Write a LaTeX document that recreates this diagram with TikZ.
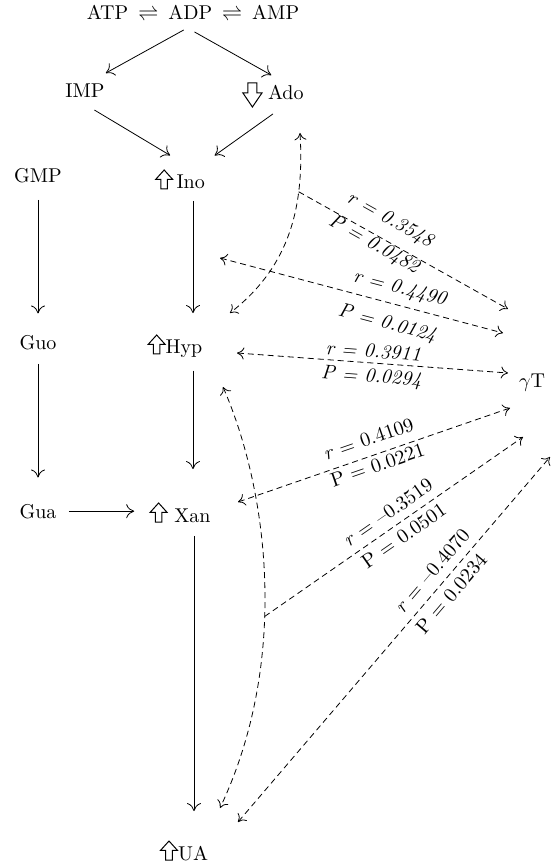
\documentclass[tikz,border=0pt]{standalone}
\usepackage{fontspec}
\usetikzlibrary{arrows.meta}

% hule piler foran navnene
\newcommand{\uparr}{\tikz[baseline=0pt, x=1pt, y=1pt] \draw [line width=.5pt, line join=miter] (2.6,0) -- (2.6,4.8) -- (0,4.8) -- (4.25,9.5) -- (8.5,4.8) -- (5.9,4.8) -- (5.9,0) -- cycle;}
\newcommand{\dnarr}{\tikz[baseline=0pt, x=1pt, y=1pt] \draw [line width=.5pt, line join=miter] (2.5,8.5) -- (2.5,3.5) -- (0,3.5) -- (4.75,-3.5) -- (9.5,3.5) -- (7,3.5) -- (7,8.5) -- cycle;}

\begin{document}
\begin{tikzpicture}[x=0.5pt,y=0.5pt,
	met/.style={anchor=base, inner sep=3pt},
	flow/.style={-{To[length=4pt,width=7pt]}, shorten <=5pt, shorten >=8pt},
	corr/.style={dash pattern=on 3pt off 2pt, -{To[length=3.5pt,width=6pt]}},
	corr2/.style={corr, {To[length=3.5pt,width=6pt]}-{To[length=3.5pt,width=6pt]}},
	lab/.style={sloped, inner sep=0pt},
	labi/.style={lab, font=\itshape}]

	\useasboundingbox (0,0) rectangle (554,-865);

	% Metabolitter
	\node [met] (atp) at (193,-20)  {ATP\,\ $\rightleftharpoons$\ \,ADP\,\ $\rightleftharpoons$\ \,AMP};
	\node [met] (imp) at (85,-98)   {IMP};
	\node [met] (ado) at (273,-100) {\dnarr\hspace{2.8pt}Ado};
	\node [met] (gmp) at (38,-183)  {GMP};
	\node [met] (ino) at (180,-189) {\uparr\,Ino};
	\node [met] (guo) at (38,-350)  {Guo};
	\node [met] (hyp) at (175,-354) {\uparr Hyp};
	\node [met] (gua) at (38,-518)  {Gua};
	\node [met] (xan) at (180,-522) {\uparr\ Xan};
	\node [met] (ua)  at (184,-860) {\uparr UA};
	\node [met] (gt)  at (532,-387) {$\gamma$T};

	% Omsetning
	\draw [flow, shorten <=3pt, shorten >=5pt] ([xshift=-2pt]atp.south) -- ([xshift=6pt]imp.north);
	\draw [flow, shorten >=1pt] ([xshift=-3.6pt]atp.south) -- (ado.north);
	\draw [flow, shorten <=5.5pt, shorten >=7.5pt] (imp.south) -- ([xshift=1.5pt]ino.north);
	\draw [flow, shorten <=0pt, shorten >=6.5pt] (ado.south) -- ([xshift=12pt]ino.north);
	\draw [flow] (gmp) -- (guo);
	\draw [flow, shorten <=2.5pt, shorten >=7.5pt] ([xshift=6.5pt]ino.south) -- ([xshift=6.5pt]ino.south |- hyp.north);
	\draw [flow, shorten <=3.5pt, shorten >=10pt] (guo) -- (gua);
	\draw [flow, shorten <=3pt, shorten >=13.5pt] ([xshift=9pt]hyp.south) -- ([xshift=9pt]hyp.south |- xan.north);
	\draw [flow, shorten <=3pt, shorten >=4.5pt] (gua.east) -- (gua.east -| xan.west);
	\draw [flow, shorten <=3.5pt, shorten >=11.5pt] ([xshift=7pt]xan.south) -- ([xshift=7pt]xan.south |- ua.north);

	% Endepunkter
	\coordinate (c1a) at (300,-133);
	\coordinate (c1b) at (230,-313);
	\coordinate (c2a) at (223,-387);
	\coordinate (c2b) at (220,-808);
	\coordinate (s2) at (220,-258);
	\coordinate (s3) at (237,-353);
	\coordinate (s4) at (238,-502);
	\coordinate (s6) at (238,-822);
	\coordinate (t1) at (508,-309);
	\coordinate (t2) at (503,-333);
	\coordinate (t3) at (508,-373);
	\coordinate (t4) at (510,-408);
	\coordinate (t5) at (523,-437);
	\coordinate (t6) at (550,-457);

	% Korrelasjoner
	\draw [corr2] (c1a) .. controls (305,-215) and (285,-270) .. (c1b) coordinate [pos=.26] (k1);
	\draw [corr2] (c2a) .. controls (268,-490) and (290,-660) .. (c2b) coordinate [pos=.58] (k2);

	\draw [corr] (k1) -- node [labi, above=5.2pt, pos=.39] {r = 0.3548} node [labi, below=0pt, pos=.38] {P = 0.0482} (t1);
	\draw [corr2] (s2) -- node [labi, above=3.6pt, pos=.62] {r = 0.4490} node [labi, below=5.9pt, pos=.61] {P = 0.0124} (t2);
	\draw [corr2] (s3) -- node [labi, above=2.3pt, pos=.5] {r = 0.3911} node [labi, below=2.6pt, pos=.5] {P = 0.0294} (t3);
	\draw [corr2] (s4) -- node [lab, above=4.8pt, pos=.5] {\textit{r} = 0.4109} node [lab, below=1.6pt, pos=.5] {P = 0.0221} (t4);
	\draw [corr] (k2) -- node [lab, above=3.8pt, pos=.51] {\textit{r} = --0.3519} node [lab, below=2.8pt, pos=.51] {P = 0.0501} (t5);
	\draw [corr2] (s6) -- node [lab, above=4.2pt, pos=.66] {\textit{r} = --0.4070} node [lab, below=3.2pt, pos=.65] {P = 0.0234} (t6);

\end{tikzpicture}
\end{document}
